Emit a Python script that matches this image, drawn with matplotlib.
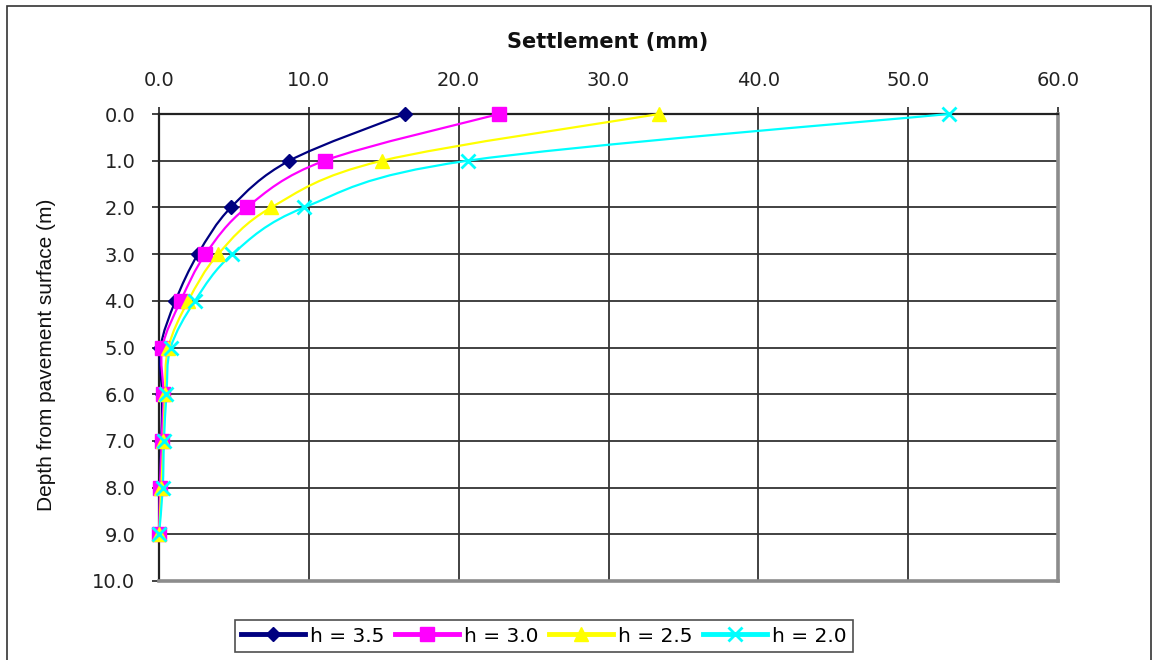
import matplotlib
matplotlib.use("Agg")
import matplotlib.pyplot as plt
from matplotlib.patches import Rectangle, PathPatch
from matplotlib.path import Path
from matplotlib.lines import Line2D
import numpy as np

plt.rcParams['font.family'] = ['DejaVu Sans']

depth = [0, 1, 2, 3, 4, 5, 6, 7, 8, 9]
s_h35 = [16.4, 8.7, 4.8, 2.6, 1.1, 0.1, 0.2, 0.15, 0.05, 0.0]
s_h30 = [22.7, 11.05, 5.85, 3.1, 1.45, 0.22, 0.3, 0.18, 0.07, 0.0]
s_h25 = [33.4, 14.9, 7.5, 3.95, 1.95, 0.62, 0.4, 0.3, 0.15, 0.02]
s_h20 = [52.7, 20.6, 9.7, 4.9, 2.4, 0.78, 0.5, 0.33, 0.25, 0.0]
labels = ['h = 3.5', 'h = 3.0', 'h = 2.5', 'h = 2.0']
x_ticks = [0, 10, 20, 30, 40, 50, 60]
y_ticks = [0, 1, 2, 3, 4, 5, 6, 7, 8, 9, 10]

W, H = 1164, 660
fig = plt.figure(figsize=(W / 100, H / 100), dpi=100)
ax = fig.add_axes([159 / W, 1 - 581 / H, (1058 - 159) / W, (581 - 114) / H])

styles = [
    dict(color='#000080', marker='D', ms=7.5, mfc='#000080', mec='#000080'),
    dict(color='#FF00FF', marker='s', ms=9.5, mfc='#FF00FF', mec='#FF00FF'),
    dict(color='#FFFF00', marker='^', ms=10.5, mfc='#FFFF00', mec='#FFFF00'),
    dict(color='#00FFFF', marker='x', ms=9.5, mfc='#00FFFF', mec='#00FFFF', mew=2),
]
series = [s_h35, s_h30, s_h25, s_h20]


def smooth_path(xs, ys):
    # Bezier smoothing (like spreadsheet "smoothed line") through data points
    pts = np.column_stack([xs, ys]).astype(float)
    n = len(pts)
    verts = [pts[0]]
    codes = [Path.MOVETO]
    for i in range(n - 1):
        p0 = pts[i - 1] if i > 0 else pts[i]
        p1 = pts[i]
        p2 = pts[i + 1]
        p3 = pts[i + 2] if i + 2 < n else pts[i + 1]
        c1 = p1 + (p2 - p0) / 6.0
        c2 = p2 - (p3 - p1) / 6.0
        verts += [c1, c2, p2]
        codes += [Path.CURVE4] * 3
    return Path(verts, codes)


for s, st, lab in zip(series, styles, labels):
    patch = PathPatch(smooth_path(s, depth), fill=False, edgecolor=st['color'],
                      lw=1.6, zorder=3, clip_on=False)
    ax.add_patch(patch)
    ax.plot(s, depth, ls='none', zorder=4, clip_on=False, **st)

ax.set_xlim(0, 60)
ax.set_ylim(10, 0)
ax.set_xticks(x_ticks)
ax.set_yticks(y_ticks)
ax.set_xticklabels([f"{v:.1f}" for v in x_ticks])
ax.set_yticklabels([f"{v:.1f}" for v in y_ticks])
ax.xaxis.tick_top()
ax.tick_params(axis='x', direction='out', length=5, width=1.2, pad=12, labelsize=14, colors='#222222')
ax.tick_params(axis='y', direction='out', length=5, width=1.2, pad=12, labelsize=14, colors='#222222')
ax.grid(True, color='#333333', lw=1.3)
ax.set_axisbelow(True)
for side in ['top', 'left']:
    ax.spines[side].set_color('#222222')
    ax.spines[side].set_linewidth(1.6)
for side in ['bottom', 'right']:
    ax.spines[side].set_color('#8c8c8c')
    ax.spines[side].set_linewidth(2.6)

fig.text(608 / W, 1 - 42 / H, 'Settlement (mm)', ha='center', va='center',
         fontsize=15, fontweight='bold', color='#111111')
fig.text(47 / W, 1 - 355 / H, 'Depth from pavement surface (m)', ha='center', va='center',
         rotation=90, fontsize=15, color='#111111',
         family=['Liberation Sans Narrow', 'Liberation Sans', 'DejaVu Sans'])

handles = []
for st, lab in zip(styles, labels):
    handles.append(Line2D([], [], lw=3.5, label=lab, **st))
leg = fig.legend(handles=handles, loc='center', bbox_to_anchor=(544 / W, 1 - 636 / H),
                 ncol=4, frameon=True, fancybox=False, edgecolor='#222222',
                 fontsize=14.5, handlelength=3.2, handletextpad=0.25, columnspacing=0.5,
                 borderpad=0.3)
leg.get_frame().set_linewidth(1.2)

fig.patches.append(Rectangle((7 / W, -0.05), (1151 - 7) / W, 1 - 6 / H + 0.05,
                             transform=fig.transFigure, fill=False, edgecolor='#333333', lw=1.2))

fig.savefig('out.png', dpi=100)
